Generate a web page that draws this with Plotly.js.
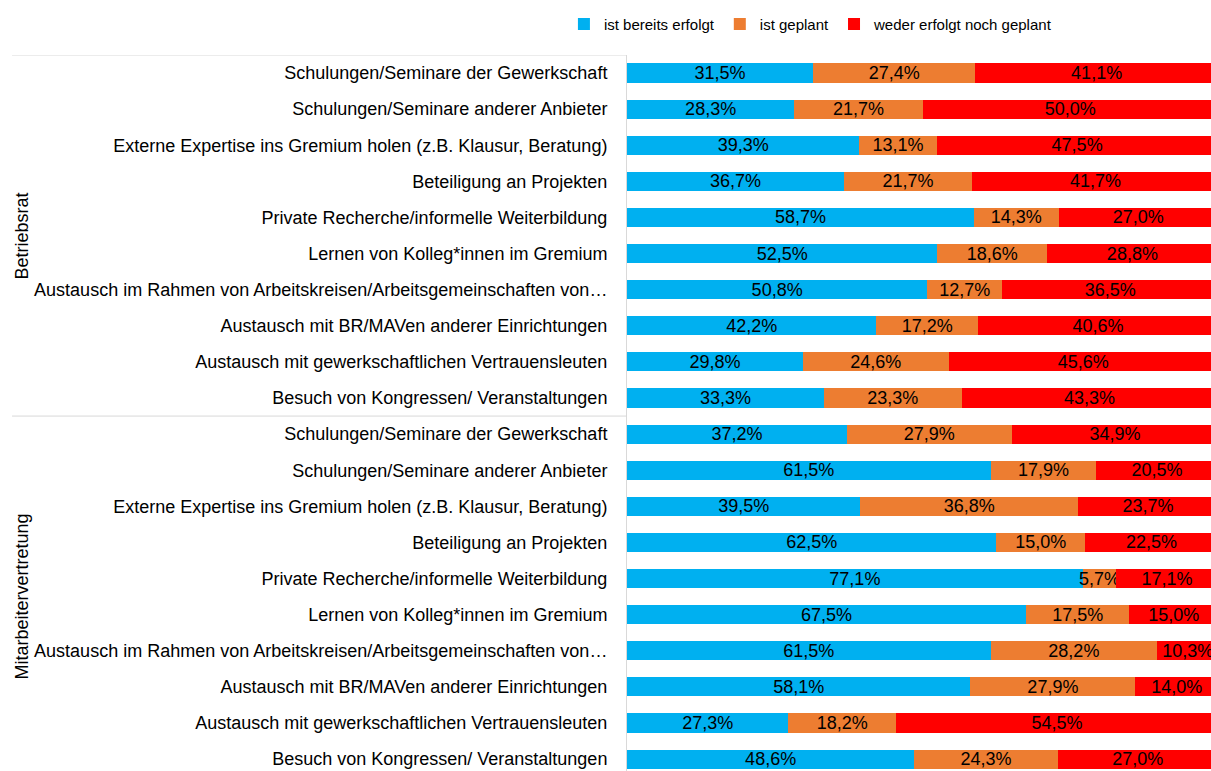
<!DOCTYPE html>
<html><head><meta charset="utf-8">
<script src="https://cdn.plot.ly/plotly-3.0.1.min.js"></script>
<style>html,body{margin:0;padding:0;background:#fff;}#chart{width:1211px;height:771px;}</style>
</head><body><div id="chart"></div>
<script>
const items = [
  "Schulungen/Seminare der Gewerkschaft",
  "Schulungen/Seminare anderer Anbieter",
  "Externe Expertise ins Gremium holen (z.B. Klausur, Beratung)",
  "Beteiligung an Projekten",
  "Private Recherche/informelle Weiterbildung",
  "Lernen von Kolleg*innen im Gremium",
  "Austausch im Rahmen von Arbeitskreisen/Arbeitsgemeinschaften von…",
  "Austausch mit BR/MAVen anderer Einrichtungen",
  "Austausch mit gewerkschaftlichen Vertrauensleuten",
  "Besuch von Kongressen/ Veranstaltungen"
];
const groups = ["Betriebsrat", "Mitarbeitervertretung"];
const seriesNames = ["ist bereits erfolgt", "ist geplant", "weder erfolgt noch geplant"];
const colors = ["#00B0F0", "#ED7D31", "#FF0000"];

const brErfolgt = [31.5, 28.3, 39.3, 36.7, 58.7, 52.5, 50.8, 42.2, 29.8, 33.3];
const brGeplant = [27.4, 21.7, 13.1, 21.7, 14.3, 18.6, 12.7, 17.2, 24.6, 23.3];
const brWeder   = [41.1, 50.0, 47.5, 41.7, 27.0, 28.8, 36.5, 40.6, 45.6, 43.3];
const mavErfolgt = [37.2, 61.5, 39.5, 62.5, 77.1, 67.5, 61.5, 58.1, 27.3, 48.6];
const mavGeplant = [27.9, 17.9, 36.8, 15.0, 5.7, 17.5, 28.2, 27.9, 18.2, 24.3];
const mavWeder   = [34.9, 20.5, 23.7, 22.5, 17.1, 15.0, 10.3, 14.0, 54.5, 27.0];

const series = [brErfolgt.concat(mavErfolgt), brGeplant.concat(mavGeplant), brWeder.concat(mavWeder)];
const labels = items.concat(items);
const pos = labels.map((_, i) => i);
const FONT = "Liberation Sans, Arial, sans-serif";

const traces = series.map((vals, k) => ({
  type: "bar", orientation: "h",
  name: seriesNames[k], x: vals, y: pos,
  marker: {color: colors[k]},
  width: 0.53,
  texttemplate: "%{x:.1f}%",
  textposition: "inside", insidetextanchor: "middle",
  constraintext: "none",
  textfont: {family: FONT, size: 18, color: "#000"},
  hoverinfo: "skip", cliponaxis: true
}));

const n = items.length;
const layout = {
  width: 1211, height: 771,
  margin: {l: 627, r: 0, t: 55, b: 0},
  paper_bgcolor: "#fff", plot_bgcolor: "#fff",
  separators: ",.",
  barmode: "stack",
  font: {family: FONT, size: 18, color: "#000"},
  showlegend: true,
  legend: {orientation: "h", x: -0.108, xanchor: "left", y: 1.043, yanchor: "middle",
           font: {size: 15, color: "#000"}, itemwidth: 30, traceorder: "normal"},
  xaxis: {range: [0, 98.8], visible: false, fixedrange: true},
  yaxis: {tickvals: pos, ticktext: labels, range: [19.33, -0.5], showgrid: false, zeroline: false,
          showline: true, linecolor: "#d9d9d9", linewidth: 1, ticks: "", ticklabelstandoff: 15,
          tickfont: {size: 18, color: "#000"}},
  shapes: [
    {type: "line", xref: "paper", yref: "y", x0: -1.053, x1: 0, y0: -0.5, y1: -0.5, line: {color: "#d9d9d9", width: 1}},
    {type: "line", xref: "paper", yref: "y", x0: -1.053, x1: 0, y0: n - 0.5, y1: n - 0.5, line: {color: "#d9d9d9", width: 1}}
  ],
  annotations: groups.map((g, gi) => ({
    text: g, textangle: -90, xref: "paper", yref: "y",
    x: -1.036, xanchor: "center", y: gi * n + (n - 1) / 2, yanchor: "middle",
    showarrow: false, font: {size: 18, color: "#000"}
  }))
};
Plotly.newPlot("chart", traces, layout, {displayModeBar: false, staticPlot: true});
</script></body></html>
